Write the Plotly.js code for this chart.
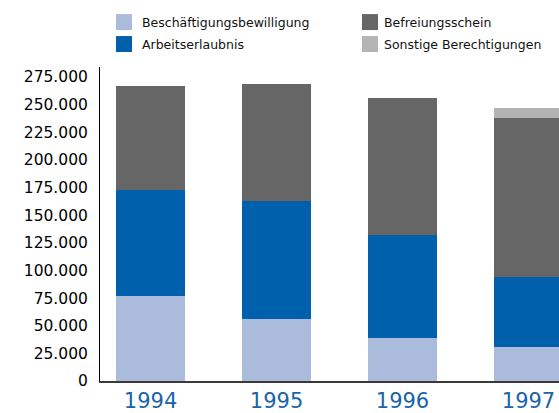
<!DOCTYPE html>
<html>
<head>
<meta charset="utf-8">
<script src="https://cdn.plot.ly/plotly-3.0.1.min.js"></script>
<style>html,body{margin:0;padding:0;background:#fff;}#chart{width:559px;height:413px;}</style>
</head>
<body>
<div id="chart"></div>
<script>
const years = ['1994', '1995', '1996', '1997'];
const seriesNames = ['Beschäftigungsbewilligung', 'Arbeitserlaubnis', 'Befreiungsschein', 'Sonstige Berechtigungen'];
const beschaeftigung = [77000, 56500, 39300, 31200];
const arbeitserlaubnis = [96000, 106500, 92400, 62600];
const befreiungsschein = [94000, 105700, 124300, 144200];
const sonstige = [0, 0, 0, 9000];
const colors = ['#abbbdc', '#0060ac', '#666666', '#b4b4b4'];
const yTickVals = [0, 25000, 50000, 75000, 100000, 125000, 150000, 175000, 200000, 225000, 250000, 275000];

const W = 559, H = 413;
const mL = 100, mR = 0, mT = 67, mB = 31.5;
const pw = W - mL - mR, ph = H - mT - mB;
const px = x => (x - mL) / pw;
const py = y => (H - mB - y) / ph;

const values = [beschaeftigung, arbeitserlaubnis, befreiungsschein, sonstige];
const traces = values.map((v, i) => ({
  type: 'bar', x: years, y: v, name: seriesNames[i],
  marker: {color: colors[i], line: {width: 0}},
  hoverinfo: 'skip', showlegend: false
}));

// Legend (2x2) drawn as shapes + annotations
const legPos = [
  {sx: 116, sy: 14, tx: 140},
  {sx: 116, sy: 36, tx: 140},
  {sx: 362, sy: 14, tx: 382},
  {sx: 362, sy: 36, tx: 382}
];
const shapes = [], annotations = [];
legPos.forEach((p, i) => {
  shapes.push({type: 'rect', xref: 'paper', yref: 'paper',
    x0: px(p.sx), x1: px(p.sx + 16), y0: py(p.sy + 16), y1: py(p.sy),
    fillcolor: colors[i], line: {width: 0}});
  annotations.push({xref: 'paper', yref: 'paper', x: px(p.tx), y: py(p.sy + 8),
    xanchor: 'left', yanchor: 'middle', showarrow: false, text: seriesNames[i],
    font: {family: 'DejaVu Sans', size: 12.5, color: '#111'}});
});

const layout = {
  width: W, height: H,
  margin: {l: mL, r: mR, t: mT, b: mB, pad: 0},
  paper_bgcolor: '#fff', plot_bgcolor: '#fff',
  font: {family: 'DejaVu Sans', color: '#000'},
  separators: ',.',
  barmode: 'stack', bargap: 0.452,
  showlegend: false,
  xaxis: {
    type: 'category', range: [-0.401, 3.242], showgrid: false, zeroline: false,
    showline: true, linecolor: '#3a3a3a', linewidth: 1.5, ticks: '',
    tickfont: {family: 'DejaVu Sans', size: 21, color: '#1a64ab'},
    ticklabelstandoff: 0, fixedrange: true
  },
  yaxis: {
    range: [0, 284000], showgrid: false, zeroline: false,
    showline: true, linecolor: '#000', linewidth: 1, ticks: '',
    tickvals: yTickVals, tickformat: ',d',
    tickfont: {family: 'DejaVu Sans', size: 15.5, color: '#000'},
    ticklabelstandoff: 8, fixedrange: true
  },
  shapes: shapes,
  annotations: annotations
};

Plotly.newPlot('chart', traces, layout, {staticPlot: true, displayModeBar: false});
</script>
</body>
</html>
